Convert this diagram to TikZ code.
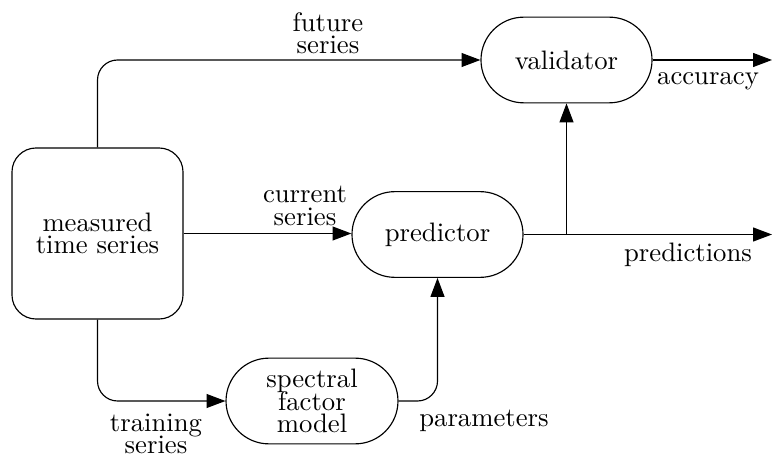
\documentclass[tikz,border=0pt]{standalone}
\usetikzlibrary{shapes.misc,arrows.meta}
\lineskiplimit=-100pt
\begin{document}
\begin{tikzpicture}[x=0.3745pt,y=-0.3745pt,
  every node/.style={font=\fontsize{10pt}{8.3pt}\selectfont, align=center, inner sep=0pt},
  blk/.style={draw, line width=0.43pt, rounded rectangle, minimum width=64.05pt, minimum height=32.1pt},
  store/.style={draw, line width=0.43pt, rectangle, rounded corners=9pt, minimum width=64.05pt, minimum height=64.05pt},
  flow/.style={line width=0.43pt, -{Triangle[length=7.05pt,width=5.2pt]}},
  lbl/.style={}]
\useasboundingbox (0,0) rectangle (772,459);
\node[store] (m) at (97.5,233.5) {measured\\time series};
\node[blk] (p) at (437.5,234.5) {predictor};
\node[blk] (v) at (566.5,60) {validator};
\node[blk, minimum width=64.4pt] (s) at (312,401) {spectral\\factor\\model};
\coordinate (o1) at (772,234.5);
\coordinate (o2) at (772,60);
\coordinate (j) at (v.south |- p.east);
\draw[flow, rounded corners=7.5pt] (m.north) |- (v.west);
\draw[flow] (m.east) -- (m.east -| p.west);
\draw[flow, rounded corners=7.5pt] (m.south) |- (s.west);
\draw[flow, rounded corners=7.5pt] (s.east) -| (p.south);
\draw[flow] (p.east) -- (o1);
\draw[flow] (j) -- (v.south);
\draw[flow] (v.east) -- (o2);
\node[lbl] (lf) at (328,33) {future\\series};
\node[lbl] (lc) at (305,206) {current\\series};
\node[lbl] (lt) at (156,434) {training\\series};
\node[lbl] (lpa) at (484,421) {parameters};
\node[lbl] (lpr) at (688,255) {predictions};
\node[lbl] (la) at (708,81) {accuracy};
\end{tikzpicture}
\end{document}
